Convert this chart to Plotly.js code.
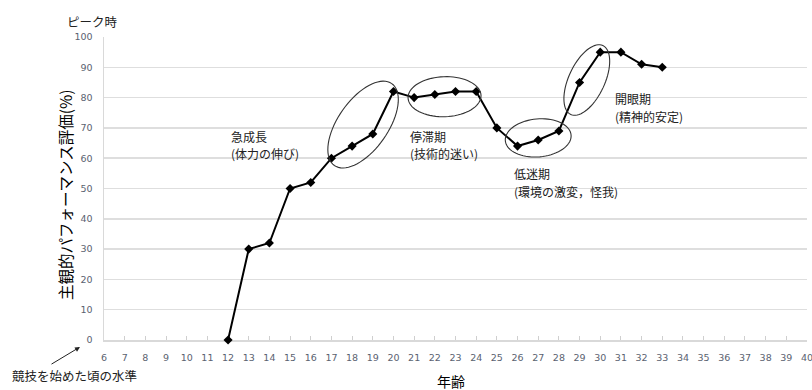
<!DOCTYPE html>
<html>
<head>
<meta charset="utf-8">
<script src="https://cdn.plot.ly/plotly-3.0.1.min.js"></script>
<style>
  html, body { margin: 0; padding: 0; background: #fff; }
  #chart { width: 812px; height: 390px; }
</style>
</head>
<body>
<div id="chart"></div>
<script>
// Age (years) and subjective performance rating (%)
const ages = [12, 13, 14, 15, 16, 17, 18, 19, 20, 21, 22, 23, 24, 25, 26, 27, 28, 29, 30, 31, 32, 33];
const ratings = [0, 30, 32, 50, 52, 60, 64, 68, 82, 80, 81, 82, 82, 70, 64, 66, 69, 85, 95, 95, 91, 90];

// Axis ticks
const xTicks = [6,7,8,9,10,11,12,13,14,15,16,17,18,19,20,21,22,23,24,25,26,27,28,29,30,31,32,33,34,35,36,37,38,39,40];
const yTicks = [0, 10, 20, 30, 40, 50, 60, 70, 80, 90, 100];

// Phase labels: name, cause, and where they sit
const phaseNames = ['急成長', '停滞期', '低迷期', '開眼期'];
const phaseCauses = ['(体力の伸び)', '(技術的迷い)', '(環境の激変，怪我)', '(精神的安定)'];
const phaseLabelX = [12.1, 20.75, 25.78, 30.66];
const phaseNameY = [67.3, 67.3, 55.0, 79.7];
const phaseCauseY = [61.4, 61.4, 49.0, 73.8];

// Ellipses circling each phase: centre (data units), semi-axes (px), tilt (deg)
const ringCx = [18.53, 22.47, 27.0, 29.35];
const ringCy = [71.1, 80.3, 66.7, 85.8];
const ringA = [50, 36.5, 33, 38];
const ringB = [25, 20, 19, 18];
const ringTilt = [55, 2, 5, 65];

const W = 812, H = 390;
const margin = { l: 104, r: 5, t: 37, b: 50 };
const xRange = [6, 40], yRange = [0, 100];
const plotW = W - margin.l - margin.r;
const plotH = H - margin.t - margin.b;
const pxPerX = plotW / (xRange[1] - xRange[0]);
const pxPerY = plotH / (yRange[1] - yRange[0]);

function ellipsePath(cx, cy, a, b, deg) {
  const th = deg * Math.PI / 180;
  const n = 72;
  let d = '';
  for (let i = 0; i <= n; i++) {
    const t = 2 * Math.PI * i / n;
    const px = a * Math.cos(t) * Math.cos(th) - b * Math.sin(t) * Math.sin(th);
    const py = a * Math.cos(t) * Math.sin(th) + b * Math.sin(t) * Math.cos(th);
    const x = cx + px / pxPerX;
    const y = cy + py / pxPerY;
    d += (i === 0 ? 'M ' : ' L ') + x.toFixed(4) + ',' + y.toFixed(4);
  }
  return d + ' Z';
}

const shapes = ringCx.map((cx, i) => ({
  type: 'path',
  xref: 'x', yref: 'y',
  path: ellipsePath(cx, ringCy[i], ringA[i], ringB[i], ringTilt[i]),
  line: { color: '#333333', width: 1.1 },
  fillcolor: 'rgba(0,0,0,0)',
  layer: 'above'
}));

const jp = '"Noto Sans CJK JP", "Noto Sans", sans-serif';
const tickFont = { family: '"DejaVu Sans", Verdana, sans-serif', size: 9.5, color: '#5a6270' };
const labelFont = { family: jp, size: 12, color: '#222222' };

// paper coordinates from pixel positions in the figure
const paperX = px => (px - margin.l) / plotW;
const paperY = py => (H - margin.b - py) / plotH;

const annotations = [];
phaseNames.forEach((name, i) => {
  [[name, phaseNameY[i]], [phaseCauses[i], phaseCauseY[i]]].forEach(([txt, y]) => {
    annotations.push({
      text: txt,
      x: phaseLabelX[i], y: y,
      xref: 'x', yref: 'y',
      xanchor: 'left', yanchor: 'middle',
      align: 'left',
      showarrow: false,
      borderpad: 0,
      font: labelFont
    });
  });
});

annotations.push(
  {
    text: 'ピーク時',
    xref: 'paper', yref: 'paper',
    x: paperX(65), y: paperY(21),
    xanchor: 'left', yanchor: 'middle',
    showarrow: false,
    font: { family: jp, size: 12.5, color: '#222222' }
  },
  {
    text: '主観的パフォーマンス評価(%)',
    xref: 'paper', yref: 'paper',
    x: paperX(65), y: paperY(195),
    xanchor: 'center', yanchor: 'middle',
    textangle: -90,
    showarrow: false,
    font: { family: jp, size: 15.5, color: '#000000' }
  },
  {
    text: '年齢',
    xref: 'paper', yref: 'paper',
    x: paperX(451), y: paperY(381),
    xanchor: 'center', yanchor: 'middle',
    showarrow: false,
    font: { family: jp, size: 14, color: '#000000' }
  },
  {
    text: '競技を始めた頃の水準',
    xref: 'paper', yref: 'paper',
    x: paperX(10), y: paperY(375),
    xanchor: 'left', yanchor: 'middle',
    showarrow: false,
    font: { family: jp, size: 12.5, color: '#222222' }
  },
  {
    text: '',
    xref: 'paper', yref: 'paper',
    x: paperX(80), y: paperY(347),
    ax: -30, ay: 18,
    showarrow: true,
    arrowhead: 2, arrowsize: 1, arrowwidth: 1,
    arrowcolor: '#222222',
    standoff: 0
  }
);

const trace = {
  x: ages,
  y: ratings,
  type: 'scatter',
  mode: 'lines+markers',
  line: { color: '#000000', width: 2 },
  marker: { symbol: 'diamond', size: 7, color: '#000000' },
  cliponaxis: false,
  hoverinfo: 'skip'
};

const layout = {
  width: W, height: H,
  margin: margin,
  paper_bgcolor: '#ffffff',
  plot_bgcolor: '#ffffff',
  showlegend: false,
  xaxis: {
    range: xRange,
    tickmode: 'array',
    tickvals: xTicks,
    ticktext: xTicks.map(String),
    ticks: 'inside', ticklen: 4, tickwidth: 1, tickcolor: '#cfcfcf',
    showgrid: false,
    zeroline: false,
    showline: true, linecolor: '#d9d9d9', linewidth: 1.5,
    layer: 'below traces',
    tickfont: tickFont,
    ticklabelstandoff: 8,
    ticklabeloverflow: 'allow',
    fixedrange: true
  },
  yaxis: {
    range: yRange,
    tickmode: 'array',
    tickvals: yTicks,
    ticktext: yTicks.map(String),
    ticks: '',
    showgrid: true, gridcolor: '#dedede', gridwidth: 1.5,
    zeroline: false,
    showline: true, linecolor: '#d9d9d9', linewidth: 1.5,
    layer: 'below traces',
    tickfont: tickFont,
    ticklabelstandoff: 8,
    fixedrange: true
  },
  shapes: shapes,
  annotations: annotations
};

Plotly.newPlot('chart', [trace], layout, { displayModeBar: false, staticPlot: true });
</script>
</body>
</html>
